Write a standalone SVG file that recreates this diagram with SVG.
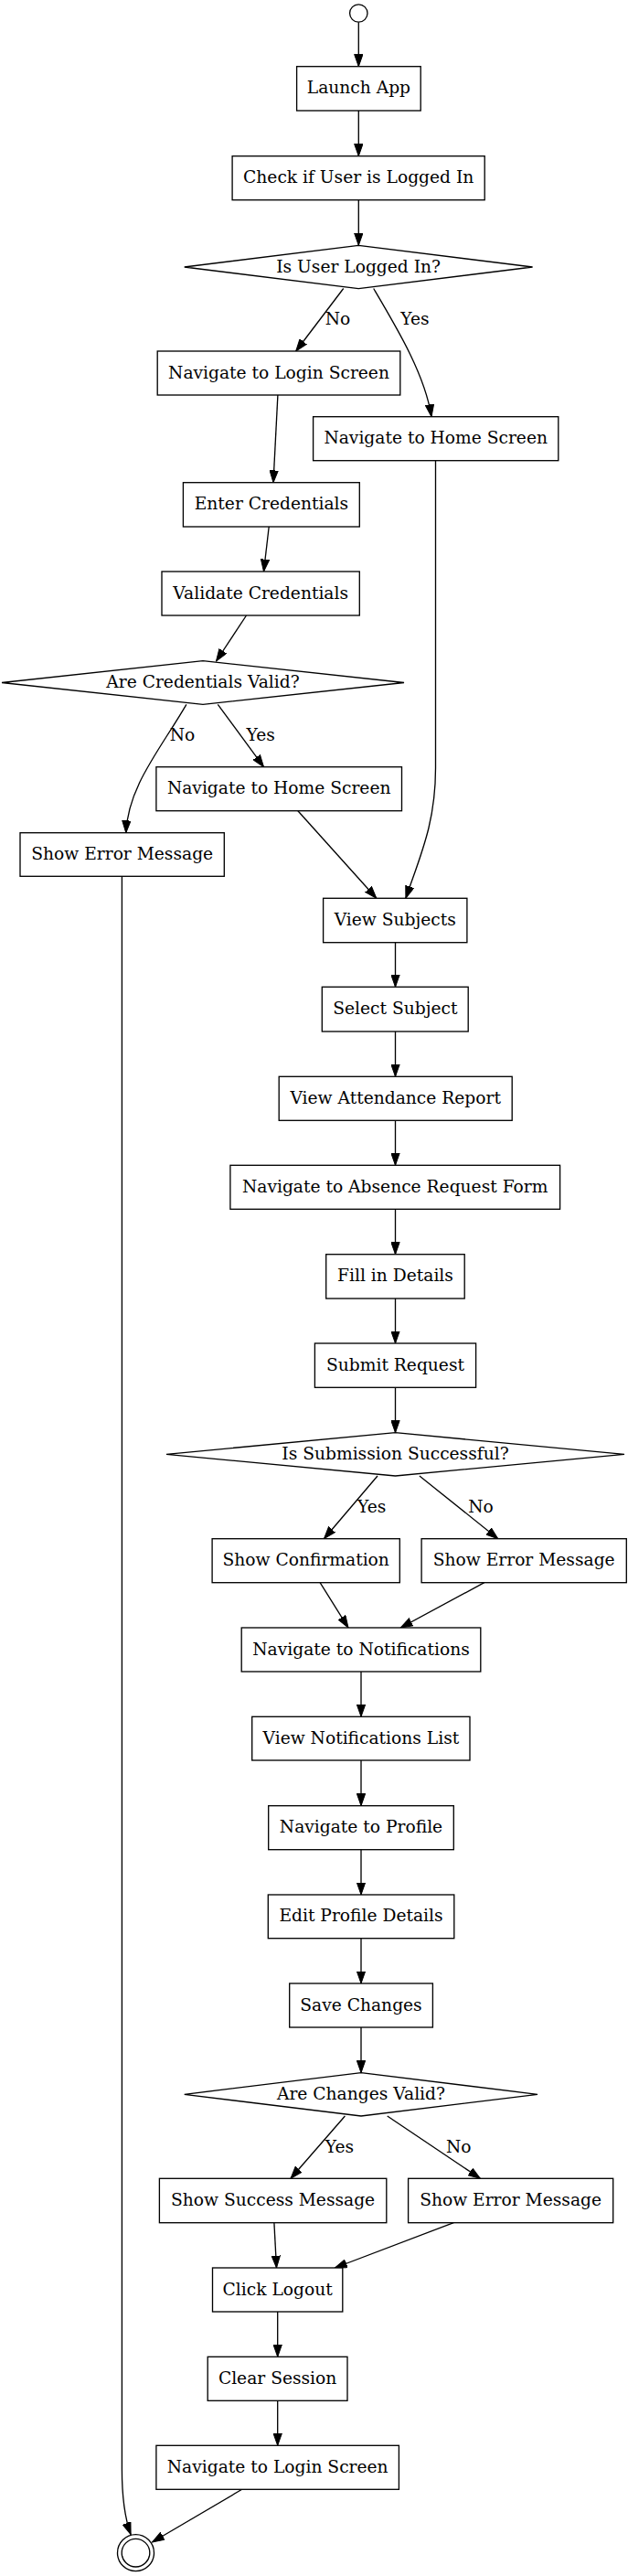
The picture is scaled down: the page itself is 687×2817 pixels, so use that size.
<svg xmlns="http://www.w3.org/2000/svg" width="687" height="2817" viewBox="0 0 687 2817">
<style>
.n rect,.n polygon,.n circle{fill:#fff;stroke:#000;stroke-width:1.33}
.n text,.lbl{font-family:"DejaVu Serif","Liberation Serif",serif;font-size:18.67px;fill:#000}
.n text{text-anchor:middle}
.e path{fill:none;stroke:#000;stroke-width:1.33;marker-end:url(#ah)}
</style>
<defs>
<marker id="ah" markerUnits="userSpaceOnUse" markerWidth="14" markerHeight="10" refX="13.3" refY="4.67" orient="auto" viewBox="0 0 14 9.34">
<path d="M0,0 L13.3,4.67 L0,9.34 z" fill="#000" stroke="#000" stroke-width="1"/>
</marker>
</defs>
<rect width="687" height="2817" fill="#fff"/>
<g id="connectors" class="e">
<path d="M392.3,24.2 L392.3,72.7"/>
<path d="M392.3,121 L392.3,170.7"/>
<path d="M392.3,218.7 L392.3,268.3"/>
<path d="M375.7,315.5 L323.7,384"/>
<path d="M408.7,315.5 C435,360 465,410 472,455.7"/>
<path d="M303.9,432 L299,527.7"/>
<path d="M294.2,576 L288.5,625"/>
<path d="M269.5,673 L236.5,723"/>
<path d="M238.3,770.3 L288.5,838.7"/>
<path d="M203.9,770.3 C175,820 140,860 137.8,910.7"/>
<path d="M325.9,886.7 L411.8,982.3"/>
<path d="M476.5,503.7 L476.5,840 C476.5,900 460,935 443.9,982.3"/>
<path d="M432.5,1030.7 L432.5,1079.3"/>
<path d="M432.5,1128 L432.5,1177.3"/>
<path d="M432.5,1225.3 L432.5,1274.3"/>
<path d="M432.5,1322.3 L432.5,1371.7"/>
<path d="M432.5,1420 L432.5,1469"/>
<path d="M432.5,1517.3 L432.5,1566.7"/>
<path d="M413,1614 L354.5,1682.7"/>
<path d="M458.9,1614 L544.8,1682.7"/>
<path d="M350.1,1730.7 L381,1780"/>
<path d="M529.8,1730.7 L438.2,1780"/>
<path d="M395,1828 L395,1877.3"/>
<path d="M395,1925 L395,1974.7"/>
<path d="M395,2022.7 L395,2072"/>
<path d="M395,2119.7 L395,2169"/>
<path d="M395,2217 L395,2266.7"/>
<path d="M377.4,2314 L318,2382.3"/>
<path d="M423.7,2314 L525.4,2382.3"/>
<path d="M299.9,2430.7 L302.5,2480"/>
<path d="M496.3,2430.7 L366.4,2480"/>
<path d="M303.7,2528 L303.7,2577.3"/>
<path d="M303.7,2625.3 L303.7,2674.3"/>
<path d="M264.7,2722.3 L166.5,2780"/>
<path d="M133.4,958.3 L133.4,2700 C133.4,2735 137,2755 143.1,2771.7"/>
<text class="lbl" x="355.8" y="355">No</text>
<text class="lbl" x="438.2" y="355">Yes</text>
<text class="lbl" x="185.8" y="810">No</text>
<text class="lbl" x="269.5" y="810">Yes</text>
<text class="lbl" x="391" y="1654">Yes</text>
<text class="lbl" x="512.2" y="1654">No</text>
<text class="lbl" x="355.8" y="2354">Yes</text>
<text class="lbl" x="488" y="2354">No</text>
</g>
<g id="start" class="n"><circle cx="392.3" cy="14.5" r="9.7"/></g>
<g id="launch" class="n"><rect x="324.6" y="72.7" width="135.6" height="48.3"/><text x="392.4" y="102.4">Launch App</text></g>
<g id="check" class="n"><rect x="254.1" y="170.7" width="276.1" height="48"/><text x="392.2" y="200.2">Check if User is Logged In</text></g>
<g id="d_logged" class="n"><polygon points="392.2,268.3 582.6,292 392.2,315.7 201.7,292"/><text x="392.2" y="297.5">Is User Logged In?</text></g>
<g id="login1" class="n"><rect x="172.2" y="384" width="265.6" height="48"/><text x="305" y="413.5">Navigate to Login Screen</text></g>
<g id="home1" class="n"><rect x="342.6" y="455.7" width="268.2" height="48"/><text x="476.7" y="485.2">Navigate to Home Screen</text></g>
<g id="enter" class="n"><rect x="200.4" y="527.7" width="192.9" height="48.3"/><text x="296.9" y="557.4">Enter Credentials</text></g>
<g id="validate" class="n"><rect x="177" y="625" width="216.3" height="48"/><text x="285.2" y="654.5">Validate Credentials</text></g>
<g id="d_cred" class="n"><polygon points="222,722.7 442,746.5 222,770.3 2,746.5"/><text x="222" y="752">Are Credentials Valid?</text></g>
<g id="home2" class="n"><rect x="170.9" y="838.7" width="268.6" height="48"/><text x="305.2" y="868.2">Navigate to Home Screen</text></g>
<g id="err1" class="n"><rect x="22" y="910.7" width="223.3" height="47.6"/><text x="133.7" y="940">Show Error Message</text></g>
<g id="subjects" class="n"><rect x="353.6" y="982.3" width="157.3" height="48.4"/><text x="432.3" y="1012">View Subjects</text></g>
<g id="select" class="n"><rect x="352.3" y="1079.3" width="159.9" height="48.7"/><text x="432.3" y="1109.2">Select Subject</text></g>
<g id="attendance" class="n"><rect x="305.2" y="1177.3" width="255" height="48"/><text x="432.7" y="1206.8">View Attendance Report</text></g>
<g id="absence" class="n"><rect x="251.9" y="1274.3" width="360.7" height="48"/><text x="432.2" y="1303.8">Navigate to Absence Request Form</text></g>
<g id="fill" class="n"><rect x="356.7" y="1371.7" width="151.5" height="48.3"/><text x="432.5" y="1401.4">Fill in Details</text></g>
<g id="submit" class="n"><rect x="344.4" y="1469" width="176.2" height="48.3"/><text x="432.5" y="1498.7">Submit Request</text></g>
<g id="d_sub" class="n"><polygon points="432.5,1566.7 683,1590.3 432.5,1614 182,1590.3"/><text x="432.5" y="1595.8">Is Submission Successful?</text></g>
<g id="confirm" class="n"><rect x="232.1" y="1682.7" width="205.2" height="48"/><text x="334.7" y="1712.2">Show Confirmation</text></g>
<g id="err2" class="n"><rect x="461.1" y="1682.7" width="224.2" height="48"/><text x="573.2" y="1712.2">Show Error Message</text></g>
<g id="notif" class="n"><rect x="264.2" y="1780" width="261.6" height="48"/><text x="395" y="1809.5">Navigate to Notifications</text></g>
<g id="notiflist" class="n"><rect x="275.7" y="1877.3" width="238.3" height="47.7"/><text x="394.9" y="1906.7">View Notifications List</text></g>
<g id="profile" class="n"><rect x="293.7" y="1974.7" width="202.6" height="48"/><text x="395" y="2004.2">Navigate to Profile</text></g>
<g id="edit" class="n"><rect x="293.3" y="2072" width="203.5" height="47.7"/><text x="395" y="2101.4">Edit Profile Details</text></g>
<g id="save" class="n"><rect x="316.7" y="2169" width="156.7" height="48"/><text x="395" y="2198.5">Save Changes</text></g>
<g id="d_changes" class="n"><polygon points="395,2266.7 588,2290.3 395,2314 201.7,2290.3"/><text x="395" y="2295.8">Are Changes Valid?</text></g>
<g id="success" class="n"><rect x="174.4" y="2382.3" width="248.4" height="48.4"/><text x="298.6" y="2412">Show Success Message</text></g>
<g id="err3" class="n"><rect x="446.6" y="2382.3" width="224.1" height="48.4"/><text x="558.6" y="2412">Show Error Message</text></g>
<g id="logout" class="n"><rect x="232.5" y="2480" width="142.3" height="48"/><text x="303.7" y="2509.5">Click Logout</text></g>
<g id="clear" class="n"><rect x="227.2" y="2577.3" width="152.8" height="48"/><text x="303.6" y="2606.8">Clear Session</text></g>
<g id="login2" class="n"><rect x="170.9" y="2674.3" width="265.5" height="48"/><text x="303.7" y="2703.8">Navigate to Login Screen</text></g>
<g id="end" class="n"><circle cx="148.5" cy="2791.7" r="20"/><circle cx="148.5" cy="2791.7" r="15.3"/></g>
</svg>
